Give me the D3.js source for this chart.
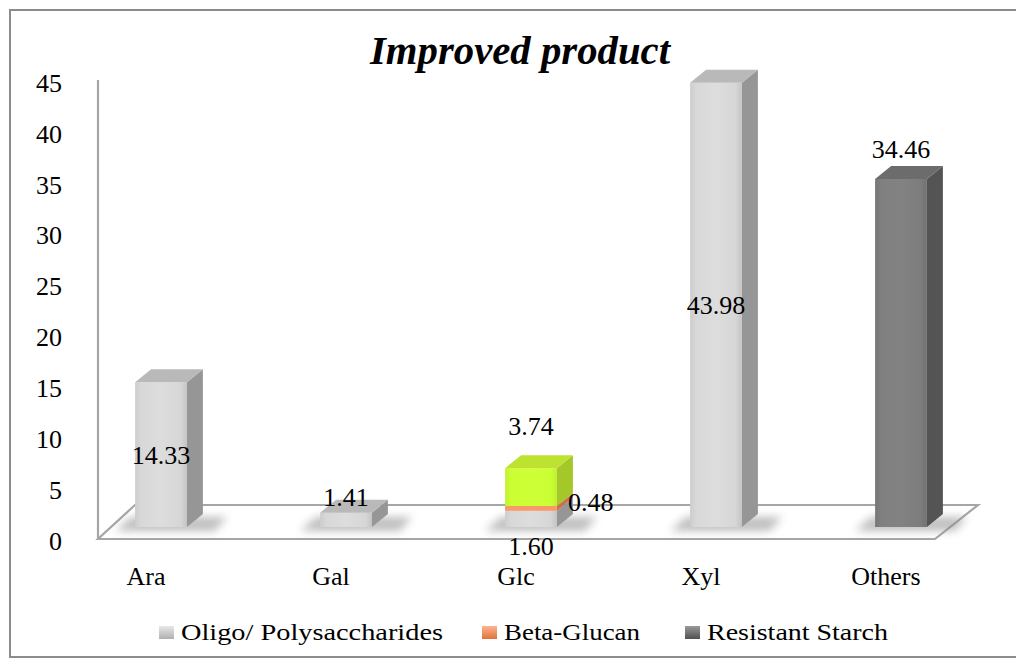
<!DOCTYPE html>
<html><head><meta charset="utf-8">
<script src="https://cdn.jsdelivr.net/npm/d3@7"></script>
<style>
html,body{margin:0;padding:0;background:#fff;}
svg{display:block;}
text{font-family:"Liberation Serif","DejaVu Serif",serif;fill:#000;}
</style></head>
<body>
<svg id="chart" width="1016" height="666"></svg>
<script>
// ---- data ----
const categories = ["Ara", "Gal", "Glc", "Xyl", "Others"];
const seriesNames = ["Oligo/ Polysaccharides", "Beta-Glucan", "Resistant Starch"];
const oligoPoly = [14.33, 1.41, 1.60, 43.98, 0];
const betaGlucan = [0, 0, 0.48, 0, 0];
const resistantStarch = [0, 0, 3.74, 0, 34.46];
const yTickValues = [0, 5, 10, 15, 20, 25, 30, 35, 40, 45];
const titleText = "Improved product";

// ---- build table ----
const seriesValues = [oligoPoly, betaGlucan, resistantStarch];
const table = categories.map((c, i) => {
  const row = {category: c};
  seriesNames.forEach((s, j) => row[s] = seriesValues[j][i]);
  return row;
});
const stacked = d3.stack().keys(seriesNames)(table);

// ---- styles ----
const depthDx = 16, depthDy = -13;
const colors = {
  "Oligo/ Polysaccharides": {front: "url(#gGray)", side: "#969696", top: "#b9b9b9", legend: "url(#lgGray)"},
  "Beta-Glucan": {front: "#f79a69", side: "#c8714a", top: "#e08a5e", legend: "url(#lgOrange)"},
  "Resistant Starch": {front: "url(#gDark)", side: "#545454", top: "#6c6c6c", legend: "url(#lgDark)"}
};
const overrideColor = {"Glc|Resistant Starch": {front: "url(#gGreen)", side: "#a4c72a", top: "#bde22f"}};
const labelPlacement = {
  "Gal|Oligo/ Polysaccharides": "aboveFront",
  "Glc|Oligo/ Polysaccharides": "below",
  "Glc|Beta-Glucan": "right",
  "Glc|Resistant Starch": "above",
  "Others|Resistant Starch": "above"
};

const svg = d3.select("#chart");
const defs = svg.append("defs");
function linGrad(id, stops, horiz = true) {
  const g = defs.append("linearGradient").attr("id", id)
    .attr("x1", 0).attr("y1", 0).attr("x2", horiz ? 1 : 0).attr("y2", horiz ? 0 : 1);
  stops.forEach(([o, c]) => g.append("stop").attr("offset", o).attr("stop-color", c));
}
linGrad("gGray", [[0, "#cdcdcd"], [0.12, "#d8d8d8"], [0.5, "#dddddd"], [0.88, "#d6d6d6"], [1, "#c4c4c4"]]);
linGrad("gDark", [[0, "#767676"], [0.12, "#808080"], [0.5, "#828282"], [0.88, "#7d7d7d"], [1, "#727272"]]);
linGrad("gGreen", [[0, "#c4f032"], [0.12, "#ccff33"], [0.5, "#ceff38"], [0.88, "#caff33"], [1, "#bfee30"]]);
linGrad("lgGray", [[0, "#e8e8e8"], [1, "#b0b0b0"]], false);
linGrad("lgOrange", [[0, "#fbb58f"], [1, "#e0723a"]], false);
linGrad("lgDark", [[0, "#9a9a9a"], [1, "#505050"]], false);
const blur = defs.append("filter").attr("id", "shadow").attr("x", "-50%").attr("y", "-100%").attr("width", "200%").attr("height", "300%");
blur.append("feGaussianBlur").attr("stdDeviation", 4);

// ---- border ----
svg.append("rect").attr("x", 10).attr("y", 10).attr("width", 1012).attr("height", 647)
  .attr("fill", "none").attr("stroke", "#8c8c8c").attr("stroke-width", 2);

// ---- scales ----
const x = d3.scaleBand().domain(categories).range([68.5, 993.5]).paddingInner(0.72).paddingOuter(0.36);
const yAxisScale = d3.scaleLinear().domain([0, 45]).range([541, 83]);
const yBar = d3.scaleLinear().domain([0, 45]).range([527, 527 - 45 * 10.1]);

// ---- floor ----
const floorFrontY = 539, floorBackY = 505;
const floor = [[98, floorFrontY], [935, floorFrontY], [978, floorBackY], [135, floorBackY]];
svg.append("polygon").attr("points", floor.map(p => p.join(",")).join(" "))
  .attr("fill", "#fff").attr("stroke", "#a6a6a6").attr("stroke-width", 2.2);

// y axis line
svg.append("line").attr("x1", 98).attr("x2", 98).attr("y1", 80).attr("y2", floorFrontY)
  .attr("stroke", "#a6a6a6").attr("stroke-width", 2.2);

// y tick labels via d3 axis
const yAxis = d3.axisLeft(yAxisScale).tickValues(yTickValues).tickSize(0).tickPadding(0).tickFormat(d3.format("d"));
const yG = svg.append("g").attr("transform", "translate(62,0)").call(yAxis);
yG.select(".domain").remove();
yG.selectAll("text").attr("font-size", 26).attr("fill", "#000");

// ---- bars ----
const bw = x.bandwidth();
categories.forEach((c, i) => {
  const total = seriesValues.reduce((s, arr) => s + arr[i], 0);
  if (total <= 0) return;
  const x0 = x(c), y0 = yBar(0);
  svg.append("polygon")
    .attr("points", [[x0 - 20, y0 + 4], [x0 + bw + 28, y0 + 4], [x0 + bw + 40, y0 - 10], [x0 - 4, y0 - 10]].map(p => p.join(",")).join(" "))
    .attr("fill", "#8a8a8a").attr("opacity", 0.55).attr("filter", "url(#shadow)");
});

const barG = svg.append("g");
categories.forEach((c, i) => {
  let topKey = null;
  stacked.forEach(s => { if (s[i][1] - s[i][0] > 0) topKey = s.key; });
  stacked.forEach(s => {
    const d = s[i];
    if (d[1] - d[0] <= 0) return;
    const col = overrideColor[c + "|" + s.key] || colors[s.key];
    const x0 = x(c), x1 = x0 + bw;
    const yt = yBar(d[1]), yb = yBar(d[0]);
    barG.append("polygon")
      .attr("points", [[x1, yb], [x1, yt], [x1 + depthDx, yt + depthDy], [x1 + depthDx, yb + depthDy]].map(p => p.join(",")).join(" "))
      .attr("fill", col.side);
    barG.append("rect").attr("x", x0).attr("y", yt).attr("width", bw).attr("height", yb - yt)
      .attr("fill", col.front);
    if (s.key === topKey) {
      barG.append("polygon")
        .attr("points", [[x0, yt], [x0 + depthDx, yt + depthDy], [x1 + depthDx, yt + depthDy], [x1, yt]].map(p => p.join(",")).join(" "))
        .attr("fill", col.top);
    }
  });
});

// ---- data labels ----
const lblG = svg.append("g").attr("font-size", 26);
categories.forEach((c, i) => {
  stacked.forEach(s => {
    const d = s[i];
    const v = d[1] - d[0];
    if (v <= 0) return;
    const mode = labelPlacement[c + "|" + s.key] || "center";
    const cx = x(c) + bw / 2;
    let tx = cx, ty = (yBar(d[0]) + yBar(d[1])) / 2, anchor = "middle";
    if (mode === "above") ty = yBar(d[1]) - 30 - (c === "Glc" ? 12 : 0);
    if (mode === "below") ty = yBar(d[0]) + 19;
    if (mode === "aboveFront") ty = yBar(d[1]) - 16;
    if (mode === "right") { tx = x(c) + bw + 11; ty = yBar(d[1]) - 4; anchor = "start"; }
    lblG.append("text").attr("x", tx).attr("y", ty).attr("dy", "0.35em")
      .attr("text-anchor", anchor).text(d3.format(".2f")(v));
  });
});

// ---- category labels ----
svg.append("g").attr("font-size", 26).selectAll("text").data(categories).join("text")
  .attr("x", c => x(c) + bw / 2 - 15).attr("y", 576).attr("dy", "0.35em")
  .attr("text-anchor", "middle").text(c => c);

// ---- title ----
svg.append("text").attr("x", 520).attr("y", 64).attr("text-anchor", "middle")
  .attr("font-size", 39).attr("font-weight", "bold").attr("font-style", "italic")
  .attr("textLength", 300).attr("lengthAdjust", "spacingAndGlyphs").text(titleText);

// ---- legend ----
const legendX = [159, 482, 685];
const legendTextLen = [262, 136, 181];
const lg = svg.append("g").attr("font-size", 23);
seriesNames.forEach((s, j) => {
  const g = lg.append("g").attr("transform", `translate(${legendX[j]},633)`);
  g.append("rect").attr("x", 0).attr("y", -7).attr("width", 15).attr("height", 13).attr("fill", colors[s].legend);
  g.append("text").attr("x", 22).attr("y", 7)
    .attr("textLength", legendTextLen[j]).attr("lengthAdjust", "spacingAndGlyphs").text(s);
});
</script>
</body></html>
